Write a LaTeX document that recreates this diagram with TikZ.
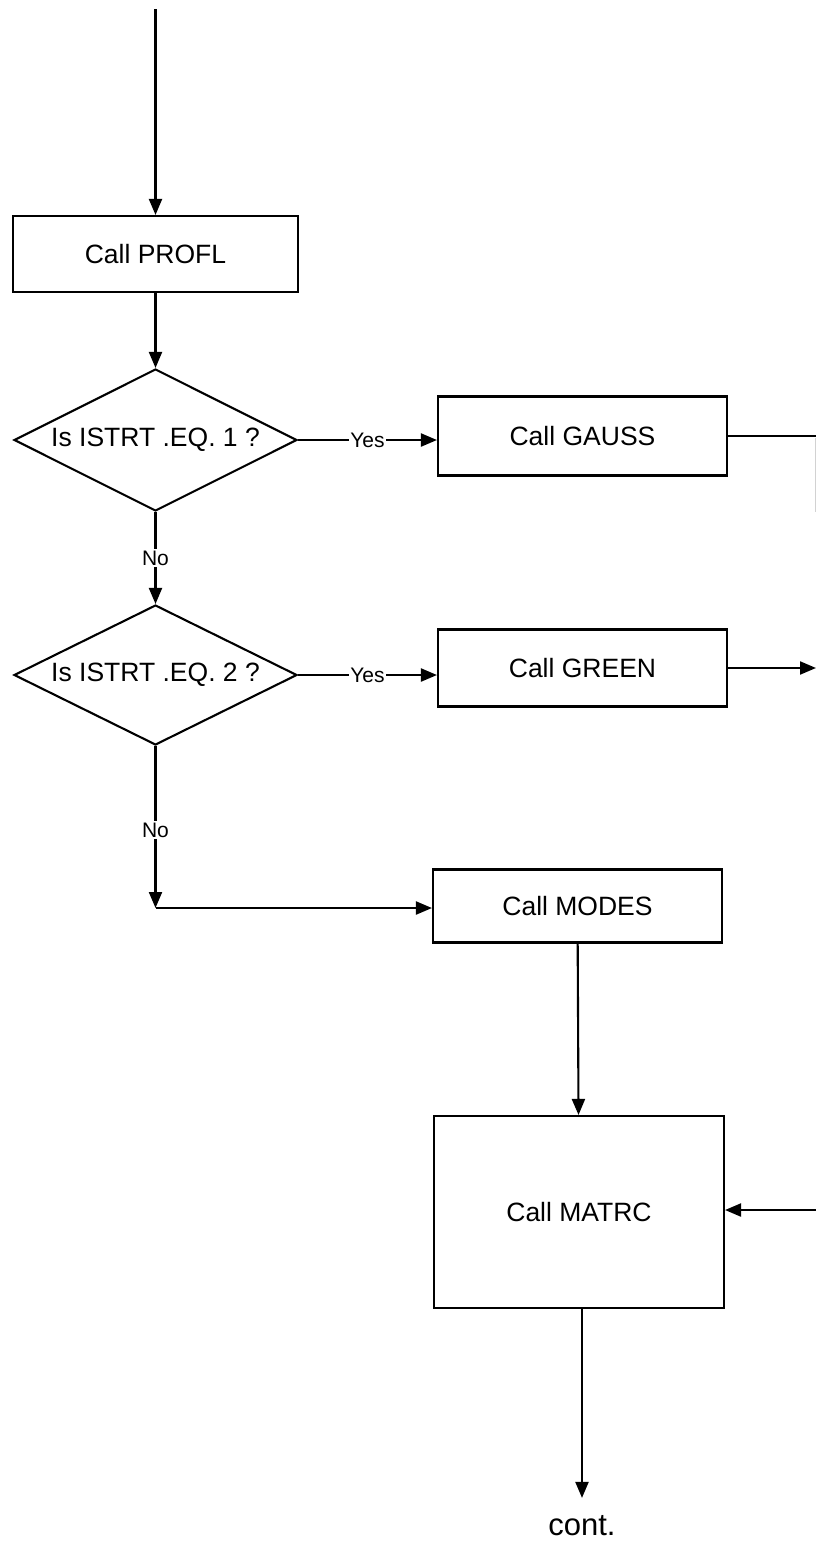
\documentclass[tikz,border=0pt]{standalone}
\usepackage{fontspec}
\setmainfont{Liberation Sans}
\usetikzlibrary{shapes.geometric,arrows.meta}
\begin{document}
\begin{tikzpicture}[x=1pt, y=-1pt, line width=2.1pt,
		box/.style={draw, rectangle, inner sep=0pt, font=\fontsize{26.5}{31}\selectfont},
		test/.style={draw, diamond, aspect=2, inner sep=0pt, minimum width=283pt, font=\fontsize{26.5}{31}\selectfont},
		lbl/.style={fill=white, inner sep=1.5pt, font=\fontsize{21}{25}\selectfont},
		flow/.style={-{Triangle[length=16pt,width=13pt]}}]
		\useasboundingbox (0, 0) rectangle (816, 1543);
		% boxes and tests
		\node[box, minimum width=285pt, minimum height=76pt] (profl) at (155.5, 254) {Call PROFL};
		\node[test, minimum height=142pt] (istrt1) at (155.5, 440) {Is ISTRT .EQ. 1 ?};
		\node[test, minimum height=140pt] (istrt2) at (155.5, 675) {Is ISTRT .EQ. 2 ?};
		\node[box, minimum width=289pt, minimum height=79pt] (gauss) at (582.5, 436) {Call GAUSS};
		\node[box, minimum width=289pt, minimum height=77pt] (green) at (582.5, 668) {Call GREEN};
		\node[box, minimum width=289pt, minimum height=73pt] (modes) at (577.5, 906) {Call MODES};
		\node[box, minimum width=290pt, minimum height=192pt] (matrc) at (579, 1212) {Call MATRC};
		\node[anchor=base, inner sep=3pt, font=\fontsize{31}{37}\selectfont] (cont) at (582, 1535) {cont.};
		% free ends
		\coordinate (start) at (155.5, 9);
		\coordinate (gaussout) at (816, 436);
		\coordinate (greenout) at (816, 668);
		\coordinate (matrcin) at (816, 1210);
		\coordinate (nobend) at (155.5, 908);
		% connectors
		\draw[flow] (start) -- (profl);
		\draw[flow] (profl) -- (istrt1);
		\draw[flow] (istrt1.east) -- node[lbl] {Yes} (istrt1.east -| gauss.west);
		\draw (gauss.east) -- (gaussout);
		\draw[gray!35, line width=1pt] (815, 438) -- (815, 512);
		\draw[flow] (istrt1.south) -- node[lbl] {No} (istrt2.north);
		\draw[flow] (istrt2.east) -- node[lbl] {Yes} (istrt2.east -| green.west);
		\draw[flow] (green.east) -- (greenout);
		\draw[flow] (istrt2.south) -- node[lbl, pos=0.52] {No} (nobend);
		\draw[flow] (nobend) -- (nobend -| modes.west);
		\draw[flow] (modes) -- (matrc);
		\draw[flow] (matrcin) -- (matrc.east |- matrcin);
		\draw[flow, shorten >=13pt] (matrc.south -| cont.north) -- (cont.north);
	\end{tikzpicture}
\end{document}
